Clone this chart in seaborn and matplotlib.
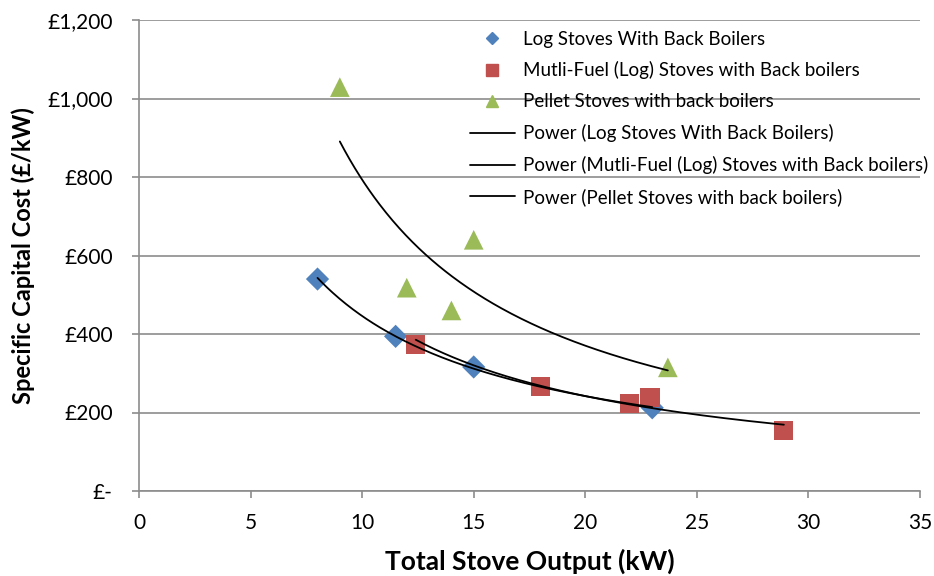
import numpy as np
import pandas as pd
import matplotlib
matplotlib.use("Agg")
import matplotlib.pyplot as plt
import seaborn as sns
from matplotlib.ticker import FuncFormatter
from matplotlib.lines import Line2D

# ---- data ----
series_names = ["Log Stoves With Back Boilers",
                "Mutli-Fuel (Log) Stoves with Back boilers",
                "Pellet Stoves with back boilers"]
log_x = [8.0, 11.5, 15.0, 23.0]
log_y = [540, 394, 316, 212]
multi_x = [12.4, 18.0, 22.0, 22.9, 28.9]
multi_y = [374, 266, 222, 238, 155]
pellet_x = [9.0, 12.0, 14.0, 15.0, 23.7]
pellet_y = [1029, 518, 460, 640, 315]
x_ticks = [0, 5, 10, 15, 20, 25, 30, 35]
y_ticks = [0, 200, 400, 600, 800, 1000, 1200]

colors = ["#4F81BD", "#C0504D", "#9BBB59"]
markers = ["D", "s", "^"]

df = pd.DataFrame({
    "x": log_x + multi_x + pellet_x,
    "y": log_y + multi_y + pellet_y,
    "series": [series_names[0]] * len(log_x) + [series_names[1]] * len(multi_x)
              + [series_names[2]] * len(pellet_x),
})

sns.set_theme(style="white")
plt.rcParams["font.family"] = ["Lato", "DejaVu Sans"]
plt.rcParams["text.color"] = "black"
plt.rcParams["axes.labelcolor"] = "black"

fig = plt.figure(figsize=(9.34, 5.76), dpi=100)
ax = fig.add_axes([139 / 934, 1 - 491 / 576, (920 - 139) / 934, (491 - 20) / 576])

sizes = {series_names[0]: 140, series_names[1]: 190, series_names[2]: 200}
for name, c, m in zip(series_names, colors, markers):
    sub = df[df["series"] == name]
    sns.scatterplot(data=sub, x="x", y="y", color=c, marker=m, s=sizes[name],
                    edgecolor="none", linewidth=0, ax=ax, legend=False, zorder=3)

# power trendlines (fit y = a x^b in log space)
for xs, ys in [(log_x, log_y), (multi_x, multi_y), (pellet_x, pellet_y)]:
    xs = np.array(xs, float); ys = np.array(ys, float)
    b, lna = np.polyfit(np.log(xs), np.log(ys), 1)
    xx = np.linspace(xs.min(), xs.max(), 200)
    ax.plot(xx, np.exp(lna) * xx ** b, color="black", lw=1.3, zorder=4)

ax.set_xlim(0, 35)
ax.set_ylim(0, 1200)
ax.set_xticks(x_ticks)
ax.set_yticks(y_ticks)
ax.yaxis.set_major_formatter(FuncFormatter(lambda v, p: "£-" if v == 0 else f"£{int(v):,}"))
ax.grid(axis="y", color="#8c8c8c", lw=1.2)
ax.set_axisbelow(True)
for s in ["top", "right"]:
    ax.spines[s].set_visible(False)
for s in ["left", "bottom"]:
    ax.spines[s].set_color("#8c8c8c")
    ax.spines[s].set_linewidth(1.2)
ax.tick_params(axis="both", which="major", length=5, width=1.2, color="#8c8c8c",
               direction="out", labelsize=15, labelcolor="black")
ax.tick_params(axis="y", left=True, pad=14)
ax.tick_params(axis="x", bottom=True, pad=11)

ax.set_xlabel("Total Stove Output (kW)", fontsize=19, fontweight="bold", labelpad=11,
              color="black")
ax.set_ylabel("Specific Capital Cost (£/kW)", fontsize=17, fontweight="bold", labelpad=9,
              color="black")

handles = [
    Line2D([], [], ls="none", marker="D", color=colors[0], markersize=6.5),
    Line2D([], [], ls="none", marker="s", color=colors[1], markersize=9),
    Line2D([], [], ls="none", marker="^", color=colors[2], markersize=8.5),
    Line2D([], [], color="black", lw=1.3),
    Line2D([], [], color="black", lw=1.3),
    Line2D([], [], color="black", lw=1.3),
]
labels = series_names + ["Power (" + n + ")" for n in series_names]
leg = fig.legend(handles, labels, loc="upper left", bbox_to_anchor=(462 / 934, 1 - 23 / 576),
                 frameon=False, fontsize=13.5, handlelength=2.4, handletextpad=0.45,
                 labelspacing=0.74, borderaxespad=0, labelcolor="black")

fig.savefig("out.png", dpi=100)
